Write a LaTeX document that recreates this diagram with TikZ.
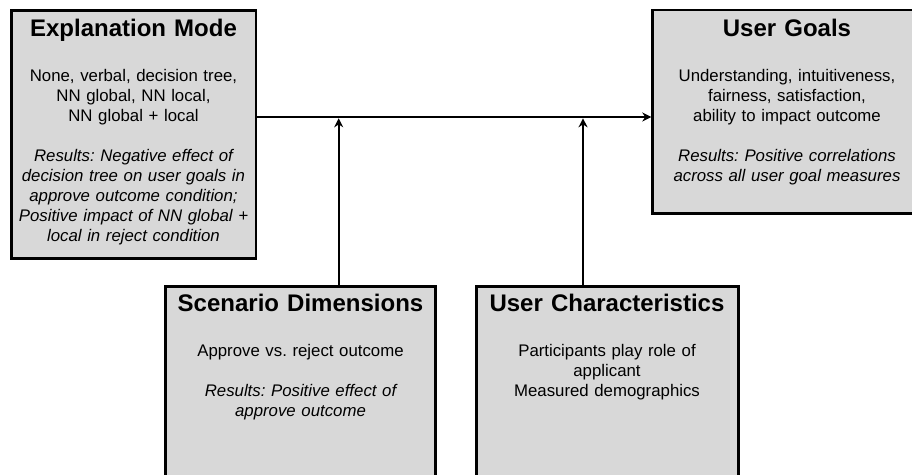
\documentclass[tikz,border=0pt]{standalone}
\usepackage{fontspec}
\setmainfont{Liberation Sans}
\usetikzlibrary{arrows.meta}
\frenchspacing

\definecolor{boxgray}{RGB}{216,216,216}
\newcommand\bodyfont{\fontsize{16.8}{20}\selectfont}
\newcommand\boxhead[1]{{\fontsize{24}{24}\selectfont\bfseries\spaceskip=0.34em #1\par}\vspace{24.3pt}}

\tikzset{
  box/.style={draw=black, line width=2.8pt, fill=boxgray, rectangle, inner sep=0pt},
  txt/.style={anchor=base, align=center, text width=#1, inner sep=0pt, font=\bodyfont},
  conn/.style={draw=black, line width=2.3pt, -{Stealth[length=9pt,width=9pt]}},
}

\begin{document}
\begin{tikzpicture}[x=1pt, y=-1pt]
  \useasboundingbox (0,0) rectangle (912,474);
  \clip (0,0) rectangle (912,474);

  % boxes
  \node[box, minimum width=244.7pt, minimum height=248pt]   (em) at (133.65,134.3) {};
  \node[box, minimum width=269.3pt, minimum height=203.8pt] (ug) at (787.35,111.9) {};
  \node[box, minimum width=269.5pt, minimum height=213.2pt] (sd) at (300.55,393.4) {};
  \node[box, minimum width=262.4pt, minimum height=213.2pt] (uc) at (607.5,393.4) {};

  % box texts
  \node[txt=260pt] (emtext) at (133.5,36.7) {%
    \boxhead{Explanation Mode}
    None, verbal, decision tree,\\ NN global, NN local,\\ NN global + local\par
    \vspace{20pt}\itshape
    Results: Negative effect of\\ decision tree on user goals in\\
    approve outcome condition;\\ Positive impact of NN global +\\
    local in reject condition};
  \node[txt=260pt] (ugtext) at (787,36.7) {%
    \boxhead{User Goals}
    Understanding, intuitiveness,\\ fairness, satisfaction,\\
    ability to impact outcome\par
    \vspace{20pt}\itshape
    Results: Positive correlations\\ across all user goal measures};
  \node[txt=260pt] (sdtext) at (300.5,311.7) {%
    \boxhead{Scenario Dimensions}
    Approve vs. reject outcome\par
    \vspace{20pt}\itshape
    Results: Positive effect of\\ approve outcome};
  \node[txt=260pt] (uctext) at (607,311.7) {%
    \boxhead{User Characteristics}
    Participants play role of\\ applicant\\ Measured demographics};

  % connectors
  \coordinate (hl) at (0,117);
  \coordinate (j1) at (338.7,118.3);
  \coordinate (j2) at (583,118.3);
  \draw[conn] (em.east |- hl) -- (ug.west |- hl);
  \draw[conn] (j1 |- sd.north) -- (j1);
  \draw[conn] (j2 |- uc.north) -- (j2);
\end{tikzpicture}
\end{document}
